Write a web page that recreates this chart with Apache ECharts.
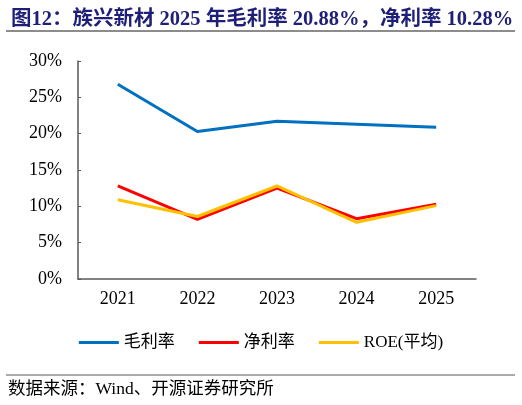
<!DOCTYPE html>
<html><head><meta charset="utf-8">
<script src="https://cdn.jsdelivr.net/npm/echarts@6/dist/echarts.min.js"></script>
<style>html,body{margin:0;padding:0;background:#fff}#c{width:522px;height:405px}</style>
</head><body><div id="c"></div>
<script>
const categories = ['2021','2022','2023','2024','2025'];
const grossMargin = [26.8, 20.3, 21.7, 21.3, 20.88];
const netMargin = [12.8, 8.2, 12.5, 8.3, 10.28];
const roeAvg = [10.9, 8.6, 12.8, 7.8, 10.1];
const yTicks = [0, 5, 10, 15, 20, 25, 30];
const seriesNames = ['毛利率', '净利率', 'ROE(平均)'];
const titleText = '图12：族兴新材 2025 年毛利率 20.88%，净利率 10.28%';
const sourceText = '数据来源：Wind、开源证券研究所';

const serif = '"Liberation Serif", "Noto Sans CJK SC", serif';
const chart = echarts.init(document.getElementById('c'), null, {renderer: 'canvas'});
chart.setOption({
  animation: false,
  title: {
    text: titleText, left: 6, top: 4,
    textStyle: {fontFamily: serif, fontWeight: 'bold', fontSize: 20.5, color: '#1F1F78'}
  },
  graphic: [
    {type: 'line', shape: {x1: 6, y1: 31, x2: 515, y2: 31}, style: {stroke: '#8C8C8C', lineWidth: 2}},
    {type: 'line', shape: {x1: 6, y1: 375, x2: 515, y2: 375}, style: {stroke: '#595959', lineWidth: 1}},
    {type: 'text', left: 8, top: 381, style: {text: sourceText, font: '17.5px ' + serif, fill: '#000'}}
  ],
  legend: {
    data: seriesNames, left: 'center', top: 329, itemWidth: 40, itemHeight: 3, itemGap: 24,
    icon: 'rect',
    textStyle: {fontFamily: serif, fontSize: 17, color: '#000'}
  },
  grid: {left: 78, right: 46, top: 61, bottom: 126, containLabel: false},
  xAxis: {
    type: 'category', data: categories, boundaryGap: true,
    axisLine: {lineStyle: {color: '#595959', width: 1.5}},
    axisTick: {inside: true, length: 4, lineStyle: {color: '#595959'}},
    axisLabel: {fontFamily: serif, fontSize: 18, color: '#000', margin: 11}
  },
  yAxis: {
    type: 'value', min: yTicks[0], max: yTicks[yTicks.length - 1], interval: 5,
    splitLine: {show: false},
    axisLine: {show: true, lineStyle: {color: '#595959', width: 1.5}},
    axisTick: {show: true, inside: true, length: 3, lineStyle: {color: '#595959'}},
    axisLabel: {fontFamily: serif, fontSize: 18, color: '#000', margin: 16, formatter: v => v + '%'}
  },
  series: [
    {name: seriesNames[0], type: 'line', data: grossMargin, symbol: 'none', lineStyle: {color: '#0070C0', width: 3}, itemStyle: {color: '#0070C0'}},
    {name: seriesNames[1], type: 'line', data: netMargin, symbol: 'none', lineStyle: {color: '#FF0000', width: 3}, itemStyle: {color: '#FF0000'}},
    {name: seriesNames[2], type: 'line', data: roeAvg, symbol: 'none', lineStyle: {color: '#FFC000', width: 3}, itemStyle: {color: '#FFC000'}}
  ]
});
</script></body></html>
